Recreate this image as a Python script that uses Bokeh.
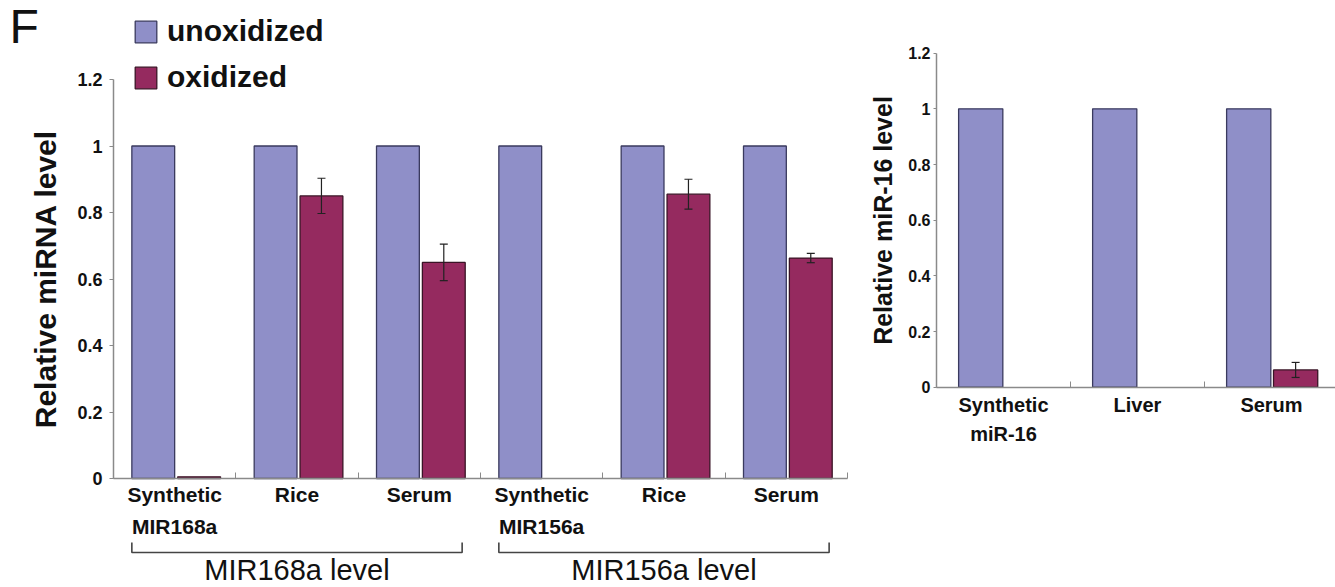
from bokeh.plotting import figure
from bokeh.models import (Range1d, FixedTicker, Whisker, TeeHead, ColumnDataSource,
                          Label, Legend, LegendItem, LinearAxis)
from bokeh.layouts import row
from bokeh.transform import dodge
from bokeh.embed import file_html
from bokeh.resources import INLINE

# ---------------- data ----------------
left_categories = ["Synthetic\nMIR168a", "Rice", "Serum", "Synthetic\nMIR156a", "Rice", "Serum"]
left_unoxidized = [1.0, 1.0, 1.0, 1.0, 1.0, 1.0]
left_oxidized = [0.005, 0.85, 0.65, 0.0, 0.855, 0.663]
left_oxidized_err = [0.0, 0.053, 0.055, 0.0, 0.045, 0.014]
left_groups = ["MIR168a level", "MIR156a level"]
left_group_members = [[0, 1, 2], [3, 4, 5]]

right_categories = ["Synthetic\nmiR-16", "Liver", "Serum"]
right_unoxidized = [1.0, 1.0, 1.0]
right_oxidized = [0.0, 0.0, 0.062]
right_oxidized_err = [0.0, 0.0, 0.027]

y_ticks = [0, 0.2, 0.4, 0.6, 0.8, 1, 1.2]
y_tick_labels = ["0", "0.2", "0.4", "0.6", "0.8", "1", "1.2"]
series_names = ["unoxidized", "oxidized"]

# ---------------- style ----------------
FONT = "Liberation Sans"
UNOX = "#8f8fc8"
OX = "#952a5f"
EDGE = "#3a3a5e"
OX_EDGE = "#3a1426"
AXIS = "#8a8a8a"
TXT = "#111111"
H = 587


def make_fig(width, ax_px, unit_px, y0_px, y12_px, ncat):
    """Figure whose frame is the full canvas; axes are pinned with fixed_location."""
    ppu_y = (y0_px - y12_px) / 1.2
    x_start = -0.5 - ax_px / unit_px
    x_end = -0.5 + (width - ax_px) / unit_px
    y_start = -(H - y0_px) / ppu_y
    y_end = y0_px / ppu_y
    p = figure(width=width, height=H, x_range=Range1d(x_start, x_end),
               y_range=Range1d(y_start, y_end), output_backend="svg",
               toolbar_location=None, x_axis_location=None, y_axis_location=None,
               min_border=0, min_border_left=0, min_border_right=0,
               min_border_top=0, min_border_bottom=0)
    p.frame_align = False
    p.outline_line_color = None
    p.xgrid.visible = False
    p.ygrid.visible = False
    xa = LinearAxis(fixed_location=0, bounds=(-0.5, min(ncat - 0.5, x_end)))
    ya = LinearAxis(fixed_location=-0.5, bounds=(0, 1.2))
    p.add_layout(xa, "below")
    p.add_layout(ya, "left")
    return p, xa, ya, ppu_y


def style_axes(xa, ya, cats, minor, ytick_size, ylabel, ylabel_size, ylabel_standoff,
               ytick_standoff, ytick_out, xtick_size, xline_height, xstandoff):
    idx = list(range(len(cats)))
    xa.ticker = FixedTicker(ticks=idx, minor_ticks=minor)
    xa.major_label_overrides = {i: c for i, c in zip(idx, cats)}
    xa.major_tick_in = 0
    xa.major_tick_out = 0
    xa.minor_tick_in = 6
    xa.minor_tick_out = 0
    xa.minor_tick_line_color = AXIS
    xa.axis_line_color = AXIS
    xa.axis_line_width = 1.5
    xa.major_label_text_font = FONT
    xa.major_label_text_font_style = "bold"
    xa.major_label_text_font_size = xtick_size
    xa.major_label_text_color = TXT
    xa.major_label_text_line_height = xline_height
    xa.major_label_standoff = xstandoff
    ya.ticker = FixedTicker(ticks=y_ticks, minor_ticks=[])
    ya.major_label_overrides = {t: l for t, l in zip(y_ticks, y_tick_labels)}
    ya.major_tick_in = 0
    ya.major_tick_out = ytick_out
    ya.minor_tick_in = 0
    ya.minor_tick_out = 0
    ya.major_tick_line_color = AXIS
    ya.axis_line_color = AXIS
    ya.axis_line_width = 1.5
    ya.major_label_text_font = FONT
    ya.major_label_text_font_style = "bold"
    ya.major_label_text_font_size = ytick_size
    ya.major_label_text_color = TXT
    ya.major_label_standoff = ytick_standoff
    ya.axis_label = ylabel
    ya.axis_label_text_font = FONT
    ya.axis_label_text_font_style = "bold"
    ya.axis_label_text_font_size = ylabel_size
    ya.axis_label_text_color = TXT
    ya.axis_label_standoff = ylabel_standoff


def add_bars(p, unox, ox, err, width, off_u, off_o):
    idx = list(range(len(unox)))
    su = ColumnDataSource(dict(x=idx, top=unox))
    ru = p.vbar(x=dodge("x", off_u, range=p.x_range), top="top", width=width, source=su,
                fill_color=UNOX, line_color=EDGE, line_width=1.3)
    keep = [i for i in idx if ox[i] > 0]
    so = ColumnDataSource(dict(x=keep, top=[ox[i] for i in keep]))
    ro = p.vbar(x=dodge("x", off_o, range=p.x_range), top="top", width=width, source=so,
                fill_color=OX, line_color=OX_EDGE, line_width=1.3)
    ek = [i for i in idx if err[i] > 0]
    se = ColumnDataSource(dict(x=[i + off_o for i in ek],
                               lo=[ox[i] - err[i] for i in ek],
                               hi=[ox[i] + err[i] for i in ek]))
    w = Whisker(base="x", lower="lo", upper="hi", source=se, dimension="height",
                line_color="#222222", line_width=1.2, level="annotation",
                upper_head=TeeHead(size=8, line_color="#222222", line_width=1.2),
                lower_head=TeeHead(size=8, line_color="#222222", line_width=1.2))
    p.add_layout(w)
    return ru, ro


# ---------------- left panel ----------------
W1 = 862
AX1, UNIT1, Y0_1, Y12_1 = 113, 122.33, 478, 79
p1, xa1, ya1, ppu1 = make_fig(W1, AX1, UNIT1, Y0_1, Y12_1, len(left_categories))
style_axes(xa1, ya1, left_categories, [-0.5, 0.5, 1.5, 2.5, 3.5, 4.5, 5.5],
           "18px", "Relative miRNA level", "30px", 12, 7, 4, "21px", 1.4, 4)
ru1, ro1 = add_bars(p1, left_unoxidized, left_oxidized, left_oxidized_err, 0.35, -0.175, 0.2)


def py1(page_y):
    return (Y0_1 - page_y) / ppu1


legend = Legend(items=[LegendItem(label=series_names[0], renderers=[ru1]),
                       LegendItem(label=series_names[1], renderers=[ro1])],
                location=(132, H - 94), padding=0, margin=0, spacing=12,
                glyph_width=27, glyph_height=27, label_standoff=8,
                label_text_font=FONT, label_text_font_style="bold",
                label_text_font_size="30px", label_text_color=TXT,
                border_line_alpha=0, background_fill_alpha=0)
p1.add_layout(legend, "center")

p1.add_layout(Label(x=9, y=H + 1, x_units="screen", y_units="screen", text="F",
                    text_font=FONT, text_font_size="48px", text_baseline="top",
                    text_color=TXT))

inset = 0.15
for name, members in zip(left_groups, left_group_members):
    x0 = min(members) - 0.5 + inset
    x1 = max(members) + 0.5 - inset
    p1.line(x=[x0, x0, x1, x1], y=[py1(542), py1(552), py1(552), py1(542)],
            line_color="#444444", line_width=1.6)
    p1.add_layout(Label(x=sum(members) / len(members), y=py1(585), x_units="data",
                        y_units="data", text=name, text_align="center",
                        text_baseline="bottom", text_font=FONT,
                        text_font_size="29px", text_color=TXT))

# ---------------- right panel ----------------
W2 = 1335 - W1
AX2, UNIT2, Y0_2, Y12_2 = 936 - W1, 134.0, 386.7, 52.7
p2, xa2, ya2, ppu2 = make_fig(W2, AX2, UNIT2, Y0_2, Y12_2, 3)
xa2.bounds = (-0.5, p2.x_range.end)
style_axes(xa2, ya2, right_categories, [-0.5, 0.5, 1.5],
           "16px", "Relative miR-16 level", "25px", 8, 3, 3, "20px", 1.3, 7)
add_bars(p2, right_unoxidized, right_oxidized, right_oxidized_err, 0.33, -0.17, 0.18)

layout = row(p1, p2)
open("out.html", "w").write(file_html(layout, INLINE))
